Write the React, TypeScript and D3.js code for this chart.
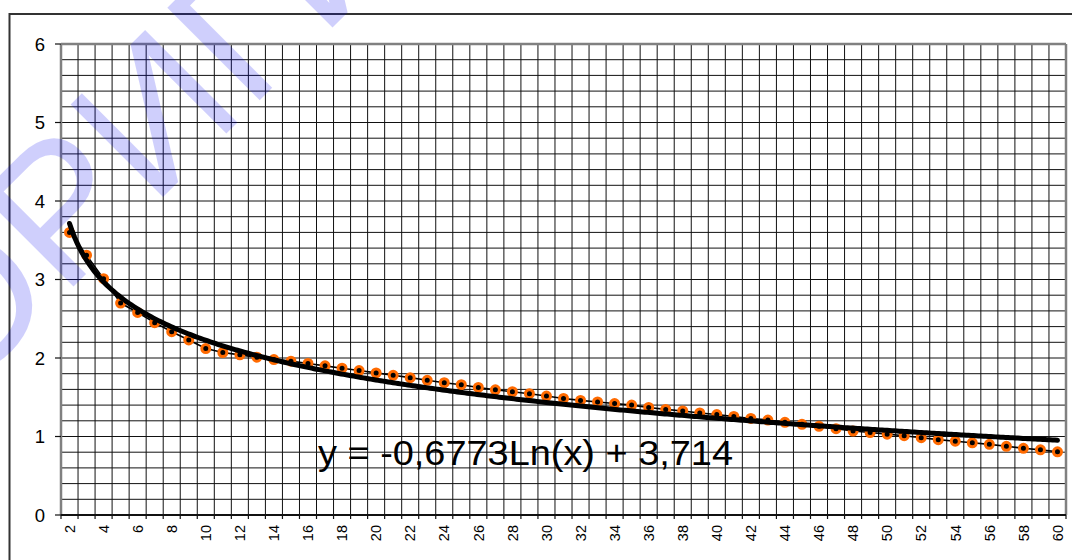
import React from 'react';
import * as d3 from 'd3';

const categories = [2,3,4,5,6,7,8,9,10,11,12,13,14,15,16,17,18,19,20,21,22,23,24,25,26,27,28,29,30,31,32,33,34,35,36,37,38,39,40,41,42,43,44,45,46,47,48,49,50,51,52,53,54,55,56,57,58,59,60];
const values = [3.60,3.31,3.01,2.70,2.58,2.45,2.335,2.23,2.12,2.07,2.04,2.01,1.98,1.96,1.93,1.90,1.87,1.84,1.81,1.78,1.75,1.716,1.685,1.66,1.625,1.595,1.57,1.545,1.515,1.485,1.46,1.44,1.42,1.40,1.37,1.345,1.325,1.30,1.28,1.255,1.23,1.21,1.18,1.155,1.13,1.10,1.07,1.05,1.03,1.01,0.985,0.96,0.94,0.92,0.90,0.875,0.85,0.83,0.805];
const xTickLabels = [2,4,6,8,10,12,14,16,18,20,22,24,26,28,30,32,34,36,38,40,42,44,46,48,50,52,54,56,58,60];
const yTicks = [0,1,2,3,4,5,6];
const trendSlope = -0.6773;
const trendIntercept = 3.714;
const equationLabel = 'y = -0,6773Ln(x) + 3,714';
const watermarkText = 'ОРИГИНАЛ';

const W = 1072, H = 560;
const plot = { left: 61, right: 1066, top: 44, bottom: 515 };
const FONT = 'Liberation Sans, Arial, Helvetica, sans-serif';

export default function App() {
  const x = d3.scaleBand<number>().domain(categories).range([plot.left, plot.right]).padding(0);
  const bw = x.bandwidth();
  const cx = (c: number) => (x(c) as number) + bw / 2;
  const y = d3.scaleLinear().domain([0, 6]).range([plot.bottom, plot.top]);

  const minor = d3.range(1, 30).map(k => k * 0.2);
  const boundaries = categories.map(c => x(c) as number).concat([plot.right]);

  const line = d3.line<number>().x((_, i) => cx(categories[i])).y(v => y(v));
  const idx = d3.scaleLinear().domain([1, categories.length]).range([cx(categories[0]), cx(categories[categories.length - 1])]);
  const trendPts = d3.range(0, 401).map(j => 1 + (categories.length - 1) * j / 400);
  const trendLine = d3.line<number>().x(k => idx(k)).y(k => y(trendIntercept + trendSlope * Math.log(k)));

  return (
    <svg width={W} height={H} style={{ position: 'absolute', left: 0, top: 0, background: '#fff' }} fontFamily={FONT}>
      <rect x={0} y={0} width={W} height={H} fill="#fff" />
      <rect x={9.5} y={14} width={1200} height={700} fill="none" stroke="#333" strokeWidth={2} />
      {minor.map((v, i) => (
        <line key={'h' + i} x1={plot.left} x2={plot.right} y1={y(v)} y2={y(v)} stroke="#111" strokeWidth={1} />
      ))}
      {boundaries.slice(1, -1).map((b, i) => (
        <line key={'v' + i} x1={b} x2={b} y1={plot.top} y2={plot.bottom} stroke="#111" strokeWidth={1} />
      ))}
      <line x1={plot.left} x2={plot.right} y1={plot.top} y2={plot.top} stroke="#808080" strokeWidth={2.5} />
      <line x1={plot.right} x2={plot.right} y1={plot.top} y2={plot.bottom} stroke="#808080" strokeWidth={2.5} />
      <line x1={plot.left} x2={plot.left} y1={plot.top} y2={plot.bottom} stroke="#808080" strokeWidth={2.5} />
      <line x1={plot.left} x2={plot.right} y1={plot.bottom} y2={plot.bottom} stroke="#111" strokeWidth={2} />
      {yTicks.map(t => (
        <g key={'yt' + t}>
          <line x1={plot.left - 6} x2={plot.left} y1={y(t)} y2={y(t)} stroke="#111" strokeWidth={1.2} />
          <text x={45} y={y(t) + 6.5} textAnchor="end" fontSize={18.5} fill="#000">{t}</text>
        </g>
      ))}
      {boundaries.map((b, i) => (
        <line key={'xt' + i} x1={b} x2={b} y1={plot.bottom} y2={plot.bottom + 4} stroke="#111" strokeWidth={1.2} />
      ))}
      {xTickLabels.map(c => (
        <text key={'xl' + c} transform={`translate(${cx(c)},525) rotate(-90)`} textAnchor="end" dy="0.36em" fontSize={14.5} fill="#000">{c}</text>
      ))}
      <path d={line(values) || ''} fill="none" stroke="#000" strokeWidth={1.6} />
      {values.map((v, i) => (
        <circle key={'p' + i} cx={cx(categories[i])} cy={y(v)} r={4} fill="#000" stroke="#ff6a00" strokeWidth={3} />
      ))}
      <path d={trendLine(trendPts) || ''} fill="none" stroke="#000" strokeWidth={5} strokeLinecap="round" />
      <text x={318} y={465} fontSize={35} fill="#000" textLength={415} lengthAdjust="spacingAndGlyphs">{equationLabel}</text>
      <text transform="translate(-42,402) rotate(-45)" fontSize={190} fill="#0000ee" fillOpacity={0.19} fontFamily={FONT}>{watermarkText}</text>
    </svg>
  );
}
